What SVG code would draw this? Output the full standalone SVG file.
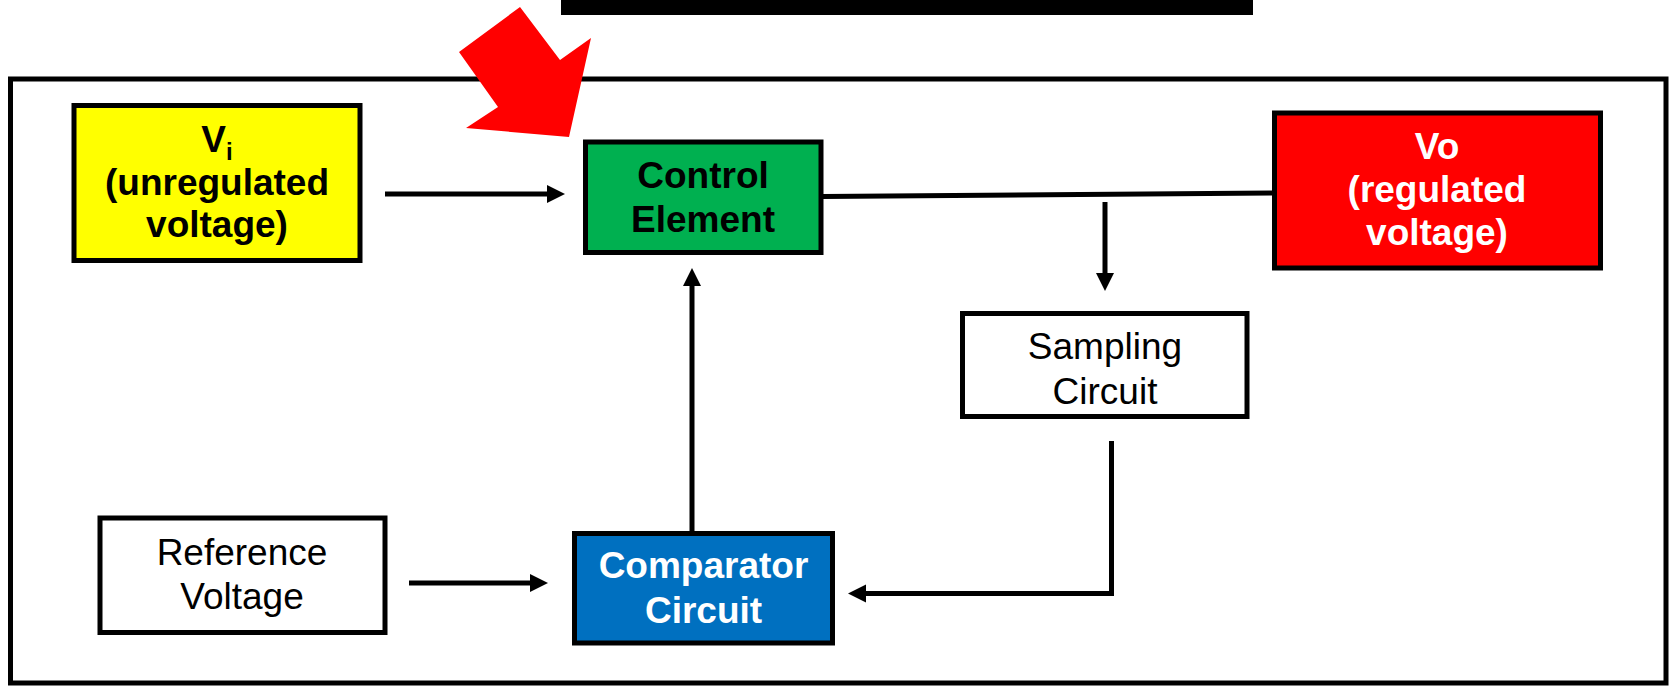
<svg xmlns="http://www.w3.org/2000/svg" width="1671" height="686" viewBox="0 0 1671 686">
<style>
.box{stroke:#000;stroke-width:5}
.t{font-family:"Liberation Sans",Arial,sans-serif;font-size:37px;text-anchor:middle}
.b{font-weight:bold}
.conn{stroke:#000;stroke-width:5;fill:none}
</style>
<defs>
<marker id="ah" markerUnits="userSpaceOnUse" markerWidth="20" markerHeight="20" refX="1" refY="9" orient="auto">
<path d="M0,0 L18,9 L0,18 z" fill="#000"/>
</marker>
</defs>
<rect width="1671" height="686" fill="#fff"/>
<rect x="561" y="0" width="692" height="15" fill="#000"/>
<rect x="10.5" y="79" width="1655.5" height="604" fill="none" stroke="#000" stroke-width="5"/>
<polygon points="459,52 520,7 560,60 591,38 569,137 466,128 498,107" fill="#f00"/>
<g id="connectors">
<line class="conn" x1="385" y1="194" x2="548" y2="194" marker-end="url(#ah)"/>
<line class="conn" x1="823" y1="196.5" x2="1274" y2="193"/>
<line class="conn" x1="1105" y1="202" x2="1105" y2="274" marker-end="url(#ah)"/>
<polyline class="conn" points="1111.5,441 1111.5,593.5 865,593.5" marker-end="url(#ah)"/>
<line class="conn" x1="692" y1="531" x2="692" y2="285" marker-end="url(#ah)"/>
<line class="conn" x1="409" y1="583" x2="531" y2="583" marker-end="url(#ah)"/>
</g>
<g id="vi">
<rect class="box" x="74" y="105.5" width="286" height="155" fill="#ff0"/>
<text class="t b" x="217" y="152">V<tspan font-size="24" dy="8">i</tspan></text>
<text class="t b" x="217" y="195">(unregulated</text>
<text class="t b" x="217" y="237">voltage)</text>
</g>
<g id="control">
<rect class="box" x="585.5" y="142" width="235.5" height="110.5" fill="#00B050"/>
<text class="t b" x="703" y="188">Control</text>
<text class="t b" x="703" y="232">Element</text>
</g>
<g id="vo">
<rect class="box" x="1274.5" y="113" width="326" height="155" fill="#f00"/>
<text class="t b" x="1437" y="159" fill="#fff">Vo</text>
<text class="t b" x="1437" y="202" fill="#fff">(regulated</text>
<text class="t b" x="1437" y="245" fill="#fff">voltage)</text>
</g>
<g id="sampling">
<rect class="box" x="962.5" y="313.5" width="284.5" height="103" fill="#fff"/>
<text class="t" x="1105" y="359">Sampling</text>
<text class="t" x="1105" y="404">Circuit</text>
</g>
<g id="reference">
<rect class="box" x="100" y="518" width="285" height="114.5" fill="#fff"/>
<text class="t" x="242" y="565">Reference</text>
<text class="t" x="242" y="609">Voltage</text>
</g>
<g id="comparator">
<rect class="box" x="574.5" y="533.5" width="258" height="109.5" fill="#0070C0"/>
<text class="t b" x="703.5" y="578" fill="#fff">Comparator</text>
<text class="t b" x="703.5" y="623" fill="#fff">Circuit</text>
</g>
</svg>
